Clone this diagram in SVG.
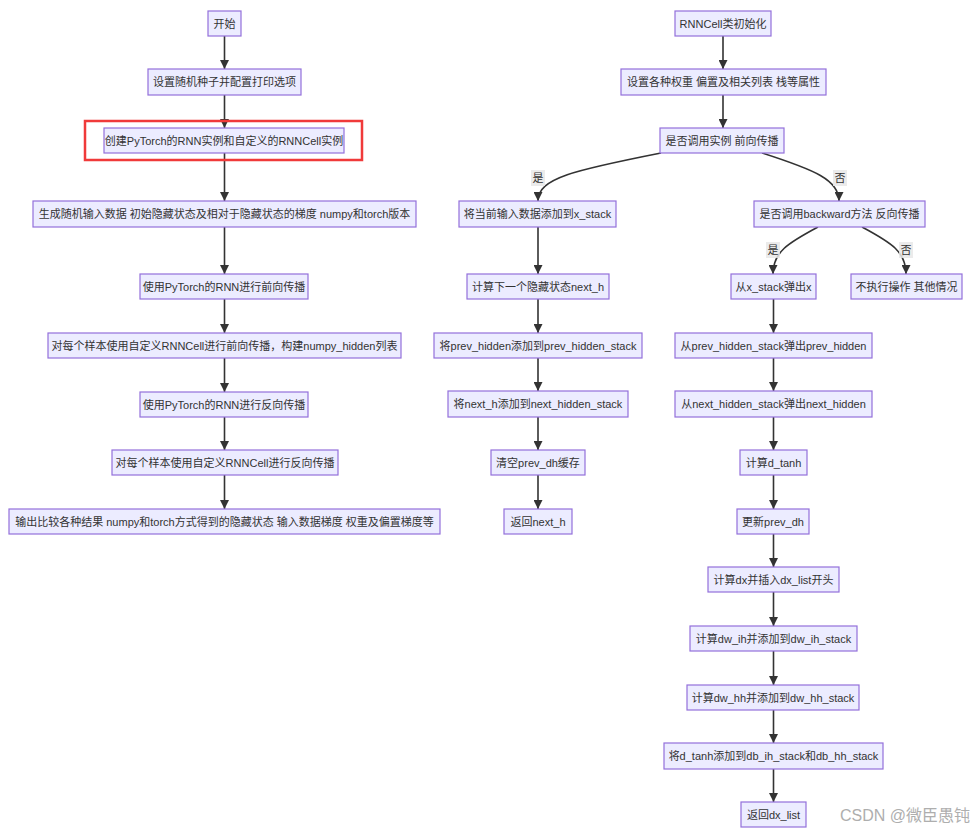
<svg xmlns="http://www.w3.org/2000/svg" width="975" height="833" viewBox="0 0 975 833">
<style>
.n rect{fill:#ECECFF;stroke:#9370DB;stroke-width:1.2}
.n text,.lbl text{font-family:"Liberation Sans","Noto Sans CJK SC",sans-serif;font-size:11px;fill:#333;text-anchor:middle;dominant-baseline:central}
.e path{fill:none;stroke:#333;stroke-width:1.6}
.lbl rect{fill:#e8e8e8;opacity:0.85}
</style>
<defs>
<marker id="ah" viewBox="0 0 10 10" refX="10" refY="5" markerUnits="userSpaceOnUse" markerWidth="9" markerHeight="9" orient="auto">
<path d="M0,0 L10,5 L0,10 z" fill="#333"/>
</marker>
</defs>
<rect width="975" height="833" fill="#fff"/>

<g id="edges" class="e">
<path marker-end="url(#ah)" d="M224.5,36 V69"/>
<path marker-end="url(#ah)" d="M224.5,95 V128"/>
<path marker-end="url(#ah)" d="M224.5,153 V201"/>
<path marker-end="url(#ah)" d="M224.5,227 V274"/>
<path marker-end="url(#ah)" d="M224.5,299 V333"/>
<path marker-end="url(#ah)" d="M224.5,358 V392"/>
<path marker-end="url(#ah)" d="M224.5,417 V450"/>
<path marker-end="url(#ah)" d="M224.5,475 V509"/>

<path marker-end="url(#ah)" d="M723,36 V69"/>
<path marker-end="url(#ah)" d="M723,95 V128"/>
<path marker-end="url(#ah)" d="M661,153 C575,170 538,178 538,201"/>
<path marker-end="url(#ah)" d="M762,153 C815,170 839,180 839,201"/>

<path marker-end="url(#ah)" d="M538,227 V274"/>
<path marker-end="url(#ah)" d="M538,299 V333"/>
<path marker-end="url(#ah)" d="M538,358 V391"/>
<path marker-end="url(#ah)" d="M538,417 V450"/>
<path marker-end="url(#ah)" d="M538,475 V509"/>

<path marker-end="url(#ah)" d="M818,227 C788,243 773,252 773,274"/>
<path marker-end="url(#ah)" d="M862,227 C892,243 906,252 906,274"/>

<path marker-end="url(#ah)" d="M773.5,299 V333"/>
<path marker-end="url(#ah)" d="M773.5,358 V391"/>
<path marker-end="url(#ah)" d="M773.5,417 V450"/>
<path marker-end="url(#ah)" d="M773.5,475 V509"/>
<path marker-end="url(#ah)" d="M773.5,534 V567"/>
<path marker-end="url(#ah)" d="M773.5,592 V626"/>
<path marker-end="url(#ah)" d="M773.5,651 V685"/>
<path marker-end="url(#ah)" d="M773.5,710 V743"/>
<path marker-end="url(#ah)" d="M773.5,769 V802"/>
</g>

<g id="edge-labels" class="lbl">
<g><rect x="531" y="170" width="14" height="16"/><text x="538" y="178">是</text></g>
<g><rect x="833" y="170" width="14" height="16"/><text x="840" y="178">否</text></g>
<g><rect x="766" y="242" width="14" height="16"/><text x="773" y="250">是</text></g>
<g><rect x="899" y="242" width="14" height="16"/><text x="906" y="250">否</text></g>
</g>

<g id="L1" class="n"><rect x="208" y="11" width="33" height="25"/><text x="224.5" y="23.5">开始</text></g>
<g id="L2" class="n"><rect x="148" y="69" width="153" height="26"/><text x="224.5" y="82">设置随机种子并配置打印选项</text></g>
<g id="L3" class="n"><rect x="104" y="128" width="240" height="25"/><text x="224" y="140.5">创建PyTorch的RNN实例和自定义的RNNCell实例</text></g>
<g id="L4" class="n"><rect x="33" y="201" width="383" height="26"/><text x="224.5" y="214">生成随机输入数据 初始隐藏状态及相对于隐藏状态的梯度 numpy和torch版本</text></g>
<g id="L5" class="n"><rect x="140" y="274" width="168" height="25"/><text x="224" y="286.5">使用PyTorch的RNN进行前向传播</text></g>
<g id="L6" class="n"><rect x="48" y="333" width="353" height="25"/><text x="224.5" y="345.5">对每个样本使用自定义RNNCell进行前向传播，构建numpy_hidden列表</text></g>
<g id="L7" class="n"><rect x="140" y="392" width="168" height="25"/><text x="224" y="404.5">使用PyTorch的RNN进行反向传播</text></g>
<g id="L8" class="n"><rect x="112" y="450" width="226" height="25"/><text x="225" y="462.5">对每个样本使用自定义RNNCell进行反向传播</text></g>
<g id="L9" class="n"><rect x="9" y="509" width="431" height="25"/><text x="224.5" y="521.5">输出比较各种结果 numpy和torch方式得到的隐藏状态 输入数据梯度 权重及偏置梯度等</text></g>

<g id="R1" class="n"><rect x="675" y="11" width="96" height="25"/><text x="723" y="23.5">RNNCell类初始化</text></g>
<g id="R2" class="n"><rect x="621" y="69" width="205" height="26"/><text x="723.5" y="82">设置各种权重 偏置及相关列表 栈等属性</text></g>
<g id="R3" class="n"><rect x="660" y="128" width="124" height="25"/><text x="722" y="140.5">是否调用实例 前向传播</text></g>

<g id="F1" class="n"><rect x="459" y="201" width="157" height="26"/><text x="537.5" y="214">将当前输入数据添加到x_stack</text></g>
<g id="F2" class="n"><rect x="467" y="274" width="142" height="25"/><text x="538" y="286.5">计算下一个隐藏状态next_h</text></g>
<g id="F3" class="n"><rect x="434" y="333" width="208" height="25"/><text x="538" y="345.5">将prev_hidden添加到prev_hidden_stack</text></g>
<g id="F4" class="n"><rect x="448" y="391" width="180" height="26"/><text x="538" y="404">将next_h添加到next_hidden_stack</text></g>
<g id="F5" class="n"><rect x="491" y="450" width="94" height="25"/><text x="538" y="462.5">清空prev_dh缓存</text></g>
<g id="F6" class="n"><rect x="504" y="509" width="68" height="25"/><text x="538" y="521.5">返回next_h</text></g>

<g id="B0" class="n"><rect x="754" y="201" width="171" height="26"/><text x="839.5" y="214">是否调用backward方法 反向传播</text></g>
<g id="N1" class="n"><rect x="851" y="274" width="111" height="25"/><text x="906.5" y="286.5">不执行操作 其他情况</text></g>
<g id="B1" class="n"><rect x="731" y="274" width="85" height="25"/><text x="773.5" y="286.5">从x_stack弹出x</text></g>
<g id="B2" class="n"><rect x="675" y="333" width="197" height="25"/><text x="773.5" y="345.5">从prev_hidden_stack弹出prev_hidden</text></g>
<g id="B3" class="n"><rect x="675" y="391" width="197" height="26"/><text x="773.5" y="404">从next_hidden_stack弹出next_hidden</text></g>
<g id="B4" class="n"><rect x="740" y="450" width="67" height="25"/><text x="773.5" y="462.5">计算d_tanh</text></g>
<g id="B5" class="n"><rect x="737" y="509" width="72" height="25"/><text x="773" y="521.5">更新prev_dh</text></g>
<g id="B6" class="n"><rect x="708" y="567" width="131" height="25"/><text x="773.5" y="579.5">计算dx并插入dx_list开头</text></g>
<g id="B7" class="n"><rect x="690" y="626" width="167" height="25"/><text x="773.5" y="638.5">计算dw_ih并添加到dw_ih_stack</text></g>
<g id="B8" class="n"><rect x="687" y="685" width="172" height="25"/><text x="773" y="697.5">计算dw_hh并添加到dw_hh_stack</text></g>
<g id="B9" class="n"><rect x="664" y="743" width="219" height="26"/><text x="773.5" y="756">将d_tanh添加到db_ih_stack和db_hh_stack</text></g>
<g id="B10" class="n"><rect x="741" y="802" width="65" height="25"/><text x="773.5" y="814.5">返回dx_list</text></g>

<rect id="highlight" x="85" y="121" width="277" height="39" fill="none" stroke="#F03A3A" stroke-width="2.5"/>

<text id="watermark" x="970" y="821" text-anchor="end" font-family="Liberation Sans,'Noto Sans CJK SC',sans-serif" font-size="16" fill="#9a9a9a" opacity="0.8">CSDN @微臣愚钝</text>
</svg>
